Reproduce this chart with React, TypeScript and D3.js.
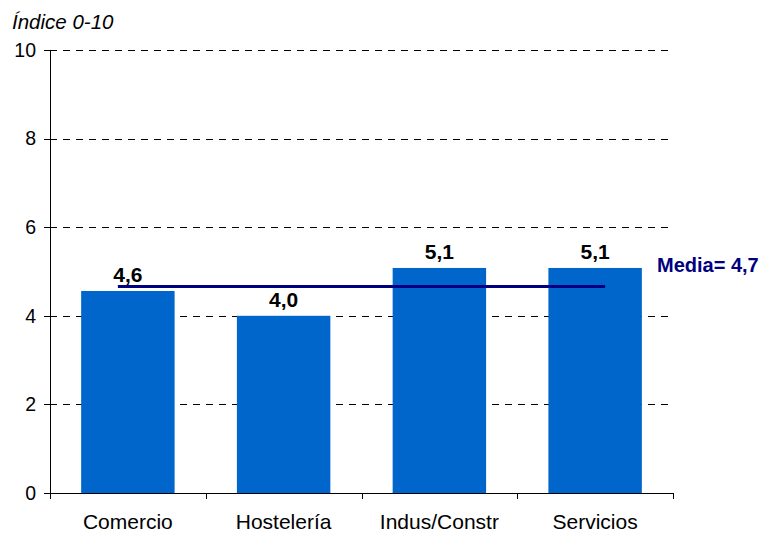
import React from "react";
import * as d3 from "d3";

const categories = ["Comercio", "Hostelería", "Indus/Constr", "Servicios"];
const values = [4.56, 4.0, 5.08, 5.08];
const valueLabels = ["4,6", "4,0", "5,1", "5,1"];
const yTicks = [0, 2, 4, 6, 8, 10];
const meanValue = 4.66;
const meanLabel = "Media= 4,7";
const yTitle = "Índice 0-10";

const W = 767;
const H = 535;
const M = { left: 50, top: 50, right: 94, bottom: 42 };

export default function App() {
  const x = d3
    .scaleBand<string>()
    .domain(categories)
    .range([M.left, W - M.right])
    .paddingInner(0.4)
    .paddingOuter(0.2);
  const xb = d3.scaleBand<string>().domain(categories).range([M.left, W - M.right]);
  const y = d3.scaleLinear().domain([0, 10]).range([H - M.bottom, M.top]);
  const font = "Liberation Sans, Arial, sans-serif";
  const x0 = M.left;
  const x1 = W - M.right;
  const first = categories[0];
  const last = categories[categories.length - 1];
  const meanX0 = x(first)! + x.bandwidth() / 2 - 10;
  const meanX1 = x(last)! + x.bandwidth() / 2 + 10;

  return (
    <svg
      width={W}
      height={H}
      style={{ position: "absolute", left: 0, top: 0, background: "#fff" }}
      fontFamily={font}
    >
      <text x={12} y={29} fontSize={20.5} fontStyle="italic" fill="#000">
        {yTitle}
      </text>
      {yTicks.map((t) => (
        <g key={t}>
          {t > 0 && (
            <line
              x1={x0}
              x2={x1}
              y1={Math.round(y(t)) + 0.5}
              y2={Math.round(y(t)) + 0.5}
              stroke="#000"
              strokeWidth={1}
              strokeDasharray="7,6"
            />
          )}
          <line
            x1={x0 - 6}
            x2={x0}
            y1={Math.round(y(t)) + 0.5}
            y2={Math.round(y(t)) + 0.5}
            stroke="#000"
          />
          <text
            x={36}
            y={y(t)}
            dy="0.35em"
            textAnchor="end"
            fontSize={19.5}
            fill="#000"
          >
            {t}
          </text>
        </g>
      ))}
      {categories.map((c, i) => (
        <rect
          key={c}
          x={x(c)}
          y={y(values[i])}
          width={x.bandwidth()}
          height={y(0) - y(values[i])}
          fill="#0066CC"
        />
      ))}
      <line x1={x0 + 0.5} x2={x0 + 0.5} y1={y(10)} y2={y(0)} stroke="#000" />
      <line x1={x0} x2={x1} y1={Math.round(y(0)) + 0.5} y2={Math.round(y(0)) + 0.5} stroke="#000" />
      {[...categories.map((c) => xb(c)!), x1].map((px, i) => (
        <line
          key={i}
          x1={Math.round(px) + 0.5}
          x2={Math.round(px) + 0.5}
          y1={y(0)}
          y2={y(0) + 6}
          stroke="#000"
        />
      ))}
      <line
        x1={meanX0}
        x2={meanX1}
        y1={y(meanValue)}
        y2={y(meanValue)}
        stroke="#000080"
        strokeWidth={3}
      />
      {categories.map((c, i) => (
        <text
          key={c}
          x={x(c)! + x.bandwidth() / 2}
          y={y(values[i]) - 9}
          textAnchor="middle"
          fontSize={21}
          fontWeight="bold"
          fill="#000"
        >
          {valueLabels[i]}
        </text>
      ))}
      {categories.map((c) => (
        <text
          key={c}
          x={xb(c)! + xb.bandwidth() / 2}
          y={529}
          textAnchor="middle"
          fontSize={21}
          fill="#000"
        >
          {c}
        </text>
      ))}
      <text
        x={657}
        y={272}
        fontSize={20}
        fontWeight="bold"
        fill="#000080"
      >
        {meanLabel}
      </text>
    </svg>
  );
}
